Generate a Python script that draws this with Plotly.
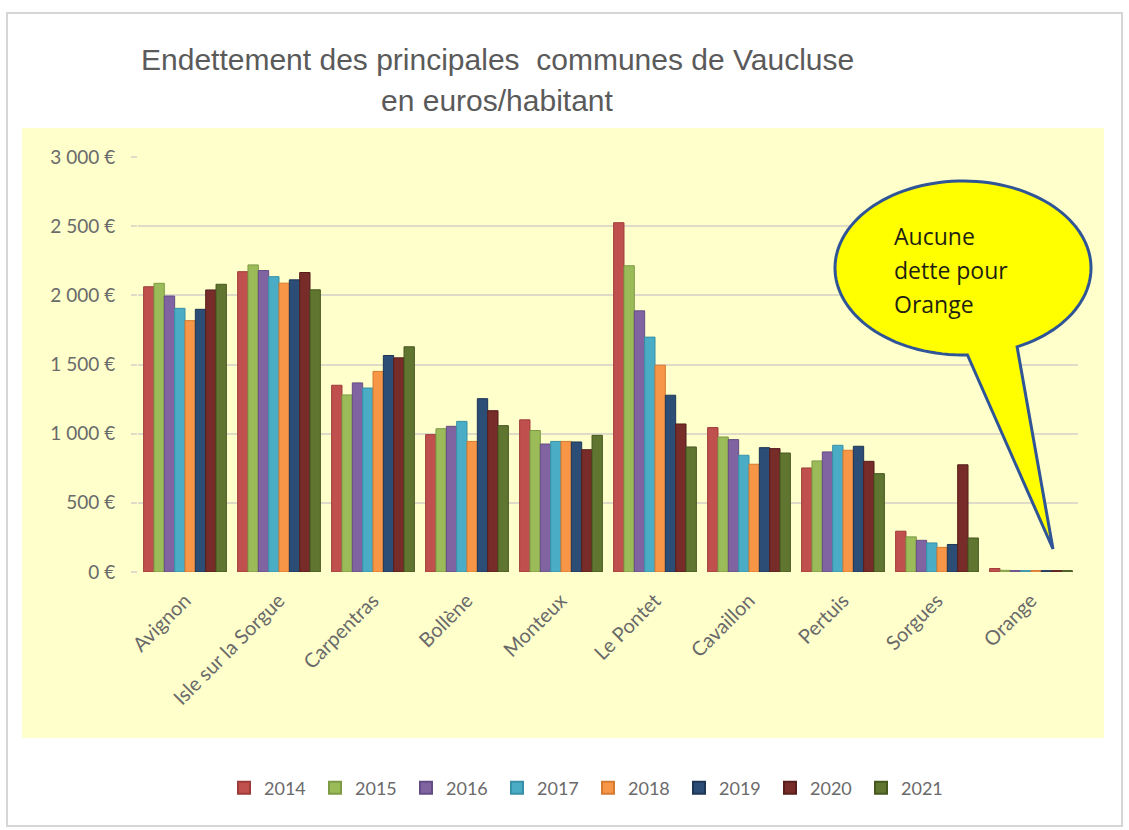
import math
import plotly.graph_objects as go

# Debt per inhabitant (euros) of the main towns of Vaucluse, 2014-2021
communes = ["Avignon", "Isle sur la Sorgue", "Carpentras", "Bollène", "Monteux",
            "Le Pontet", "Cavaillon", "Pertuis", "Sorgues", "Orange"]

years = ["2014", "2015", "2016", "2017", "2018", "2019", "2020", "2021"]

dette_2014 = [2062, 2171, 1350, 993, 1100, 2525, 1044, 752, 295, 25]
dette_2015 = [2087, 2220, 1280, 1036, 1023, 2214, 976, 803, 254, 12]
dette_2016 = [1995, 2179, 1367, 1053, 925, 1888, 957, 868, 229, 10]
dette_2017 = [1906, 2135, 1330, 1089, 944, 1698, 844, 916, 210, 10]
dette_2018 = [1817, 2088, 1450, 944, 944, 1495, 779, 880, 178, 10]
dette_2019 = [1899, 2112, 1565, 1253, 940, 1278, 899, 909, 199, 10]
dette_2020 = [2039, 2165, 1548, 1166, 884, 1070, 892, 800, 775, 10]
dette_2021 = [2080, 2040, 1628, 1058, 988, 904, 860, 711, 246, 10]

series = [dette_2014, dette_2015, dette_2016, dette_2017,
          dette_2018, dette_2019, dette_2020, dette_2021]

colors = ["#C0504D", "#9BBB59", "#8064A2", "#4BACC6",
          "#F79646", "#2C4D75", "#772C2A", "#5F7530"]
edge_colors = ["#9E3B38", "#7E9A45", "#644C84", "#3890A8",
               "#D67A30", "#1E3656", "#561D1B", "#46581F"]

tick_values = [0, 500, 1000, 1500, 2000, 2500, 3000]
tick_labels = ["0 €", "500 €", "1 000 €", "1 500 €", "2 000 €", "2 500 €", "3 000 €"]

title_lines = ["Endettement des principales  communes de Vaucluse", "en euros/habitant"]
callout_lines = ["Aucune", "dette pour", "Orange"]

W, H = 1129, 830
L, R, T, B = 138, 51, 157, 258
PW, PH = W - L - R, H - T - B


def px(x):
    return (x - L) / PW


def py(y):
    return (H - B - y) / PH


fig = go.Figure()
for name, vals, col, ecol in zip(years, series, colors, edge_colors):
    fig.add_trace(go.Bar(
        x=communes, y=vals, name=name,
        marker=dict(color=col, line=dict(color=ecol, width=1)),
    ))

# speech bubble: ellipse with a tail pointing down to Orange
cx, cy, rx, ry = 963, 268, 128, 87
tip = (1053, 549)
pts = []
a0, a1 = 65, 88 - 360
n = 120
for i in range(n + 1):
    a = math.radians(a0 + (a1 - a0) * i / n)
    pts.append((cx + rx * math.cos(a), cy + ry * math.sin(a)))
pts.append(tip)
path = "M " + " L ".join(f"{px(x):.5f},{py(y):.5f}" for x, y in pts) + " Z"

shapes = [
    # pale yellow chart area
    dict(type="rect", xref="paper", yref="paper", layer="below",
         x0=px(22), x1=px(1104), y0=py(738), y1=py(128),
         fillcolor="#FFFFCC", line=dict(width=0)),
    # outer frame
    dict(type="rect", xref="paper", yref="paper", layer="below",
         x0=px(7), x1=px(1122), y0=py(826), y1=py(13),
         fillcolor="rgba(0,0,0,0)", line=dict(color="#D6D6D6", width=2)),
    dict(type="path", xref="paper", yref="paper", path=path,
         fillcolor="#FFFF00", line=dict(color="#2F5597", width=3)),
]

annotations = []
for i, line in enumerate(title_lines):
    annotations.append(dict(
        xref="paper", yref="paper", x=px(497), y=py(60 + 40 * i),
        xanchor="center", yanchor="middle", showarrow=False, text=line,
        font=dict(family="Liberation Sans", size=30, color="#5A5A5A"),
    ))
for i, line in enumerate(callout_lines):
    annotations.append(dict(
        xref="paper", yref="paper", x=px(892), y=py(236 + 34 * i),
        xanchor="left", yanchor="middle", showarrow=False, text=line,
        font=dict(family="Open Sans", size=23, color="#1F1F12"),
    ))

fig.update_layout(
    width=W, height=H,
    margin=dict(l=L, r=R, t=T, b=B, pad=0),
    paper_bgcolor="white",
    plot_bgcolor="rgba(0,0,0,0)",
    barmode="group", bargap=0.12, bargroupgap=0,
    font=dict(family="Lato", color="#6A6A6A"),
    showlegend=True,
    legend=dict(
        orientation="h", xref="paper", yref="paper",
        x=px(588), xanchor="center", y=py(788), yanchor="middle",
        font=dict(family="Lato", size=18, color="#6A6A6A"),
        entrywidth=46, entrywidthmode="pixels",
        itemsizing="constant", traceorder="normal",
        bgcolor="rgba(0,0,0,0)",
    ),
    shapes=shapes,
    annotations=annotations,
)

fig.update_yaxes(
    range=[0, 3000], tickvals=tick_values, ticktext=tick_labels,
    showgrid=True, gridcolor="#DEDBC9", gridwidth=2, zeroline=False,
    showline=False, ticks="outside", ticklen=6, tickwidth=2, tickcolor="#DEDBC9",
    ticklabelstandoff=12,
    tickfont=dict(family="Lato", size=19, color="#6A6A6A"),
)
fig.update_xaxes(
    tickangle=-45, showgrid=False, showline=False, ticks="",
    tickfont=dict(family="Lato", size=20, color="#6A6A6A"),
    ticklabelstandoff=12,
)

fig.write_html("out.html")
